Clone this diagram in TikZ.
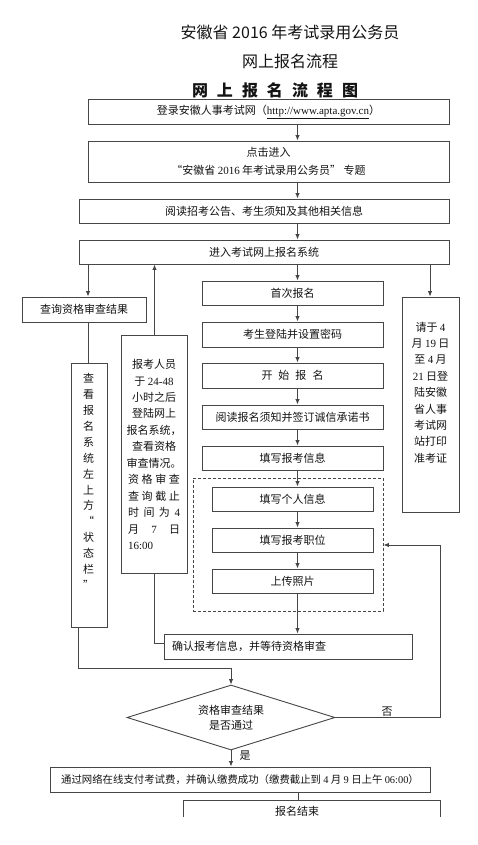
\documentclass[tikz,border=0pt]{standalone}
\usepackage{fontspec}
\setmainfont{Noto Sans CJK SC}
\newfontfamily\latf{Liberation Serif}
\newcommand\rn[1]{{\latf #1}}
\usetikzlibrary{arrows.meta,shapes.geometric}
\definecolor{lnc}{RGB}{70,70,70}
\definecolor{txc}{RGB}{20,20,20}
\begin{document}
\begin{tikzpicture}[x=1pt,y=-1pt,
  every node/.style={text=txc, font=\fontsize{11}{16.5}\selectfont},
  box/.style={draw=lnc, line width=0.9pt, inner sep=0pt, align=center},
  conn/.style={draw=lnc, line width=0.9pt},
  arr/.style={conn, -{Latex[length=5.5pt,width=4.5pt]}},
  ttl/.style={font=\fontsize{16}{18}\selectfont},
]
\useasboundingbox (0,0) rectangle (477,845);
\fill[white] (0,0) rectangle (477,845);

% titles
\node[ttl] (t1) at (290,32) {安徽省 2016 年考试录用公务员};
\node[ttl] (t2) at (290,61) {网上报名流程};
\node[font=\fontsize{16}{18}\selectfont\bfseries] (t3) at (275,90) {网\hspace{9pt}上\hspace{9pt}报\hspace{9pt}名\hspace{9pt}流\hspace{9pt}程\hspace{9pt}图};

% top chain
\node[box, minimum width=361, minimum height=25] (b1) at (268.5,111.5) {登录安徽人事考试网（\rn{\underline{http://www.apta.gov.cn}}）};
\node[box, minimum width=361, minimum height=41, font=\fontsize{11}{18}\selectfont] (b2) at (268.5,161.5) {点击进入\\“安徽省 \rn{2016} 年考试录用公务员” 专题};
\node[box, minimum width=370, minimum height=24] (b3) at (264,211) {阅读招考公告、考生须知及其他相关信息};
\node[box, minimum width=370, minimum height=24] (b4) at (264,252) {进入考试网上报名系统};

\coordinate (ax) at (297.5,0);
\draw[arr] (b1.south -| ax) -- (b2.north -| ax);
\draw[arr] (b2.south -| ax) -- (b3.north -| ax);
\draw[arr] (b3.south -| ax) -- (b4.north -| ax);

% left column
\node[box, minimum width=124, minimum height=25] (q1) at (84,309.5) {查询资格审查结果};
\coordinate (lx) at (88,0);
\draw[arr] (b4.south -| lx) -- (q1.north -| lx);
\node[box, minimum width=36, minimum height=264] (q2) at (89,495) {};
\node[align=center, font=\fontsize{11}{15.9}\selectfont] (q2t) at (88.5,481.5) {查\\看\\报\\名\\系\\统\\左\\上\\方\\“\\状\\态\\栏\\”};
\draw[conn] (q1.south -| lx) -- (q2.north -| lx);

\node[box, minimum width=66, minimum height=238] (q3) at (154,454) {};
\node[align=center, font=\fontsize{11}{16.45}\selectfont] (q3t) at (154,454.5) {报考人员\\于 \rn{24-48}\\小时之后\\登陆网上\\报名系统，\\查看资格\\审查情况。\\
\makebox[52pt][s]{资\hfill 格\hfill 审\hfill 查}\\
\makebox[52pt][s]{查\hfill 询\hfill 截\hfill 止}\\
\makebox[52pt][s]{时\hfill 间\hfill 为\hfill \rn{4}}\\
\makebox[52pt][s]{月\hfill \rn{7}\hfill 日}\\
\makebox[52pt][l]{\rn{16:00}}};
\coordinate (mx) at (154.5,0);
\draw[arr] (q3.north -| mx) -- (b4.south -| mx);

% middle column
\node[box, minimum width=181, minimum height=24] (m1) at (292.5,293) {首次报名};
\node[box, minimum width=181, minimum height=25] (m2) at (292.5,334.5) {考生登陆并设置密码};
\node[box, minimum width=181, minimum height=25] (m3) at (292.5,375.5) {开\hspace{6pt}始\hspace{6pt}报\hspace{6pt}名};
\node[box, minimum width=181, minimum height=24] (m4) at (292.5,417) {阅读报名须知并签订诚信承诺书};
\node[box, minimum width=181, minimum height=24] (m5) at (292.5,458) {填写报考信息};
\draw[arr] (b4.south -| ax) -- (m1.north -| ax);
\draw[arr] (m1.south -| ax) -- (m2.north -| ax);
\draw[arr] (m2.south -| ax) -- (m3.north -| ax);
\draw[arr] (m3.south -| ax) -- (m4.north -| ax);
\draw[arr] (m4.south -| ax) -- (m5.north -| ax);

\node[draw=lnc, line width=0.9pt, dash pattern=on 3pt off 2pt, minimum width=190, minimum height=133, inner sep=0pt] (db) at (288,544.5) {};
\node[box, minimum width=161, minimum height=24] (d1) at (292.5,499) {填写个人信息};
\node[box, minimum width=161, minimum height=24] (d2) at (292.5,540) {填写报考职位};
\node[box, minimum width=161, minimum height=24] (d3) at (292.5,581) {上传照片};
\draw[arr] (m5.south -| ax) -- (d1.north -| ax);
\draw[arr] (d1.south -| ax) -- (d2.north -| ax);
\draw[arr] (d2.south -| ax) -- (d3.north -| ax);

\node[box, minimum width=248, minimum height=25, text width=232, align=left] (c1) at (288,646.5) {确认报考信息，并等待资格审查};
\draw[arr] (d3.south -| ax) -- (c1.north -| ax);
\draw[conn] (q3.south -| mx) |- ([yshift=3.5pt]c1.west);

% right column
\node[box, minimum width=57, minimum height=215] (r1) at (430.5,404.5) {};
\node[align=center, font=\fontsize{11}{16.4}\selectfont] (r1t) at (430.5,392.5) {请于 \rn{4}\\月 \rn{19} 日\\至 \rn{4} 月\\\rn{21} 日登\\陆安徽\\省人事\\考试网\\站打印\\准考证};
\coordinate (rx) at (430,0);
\draw[arr] (b4.south -| rx) -- (r1.north -| rx);

% decision
\node[draw=lnc, line width=0.9pt, shape=diamond, aspect=3.2, minimum width=208, minimum height=65, inner sep=0pt, align=center, font=\fontsize{11}{15}\selectfont] (dm) at (231,717.5) {资格审查结果\\是否通过};
\coordinate (lx2) at (78,668);
\draw[arr] (q2.south -| lx2) -- (lx2) -| (dm.north);
\coordinate (nx) at (440,545);
\draw[arr] (dm.east) -| (nx) -- (nx -| db.east);
\node (no) at (387,712) {否};

\node[box, minimum width=380, minimum height=25, font=\fontsize{10.4}{14}\selectfont] (p1) at (240,779.5) {通过网络在线支付考试费，并确认缴费成功（缴费截止到 \rn{4} 月 \rn{9} 日上午 \rn{06:00}）};
\draw[arr] (dm.south) -- (p1.north -| dm.south);
\node (yes) at (245,756) {是};

% end (cut off at the bottom)
\begin{scope}
\clip (0,0) rectangle (477,816.5);
\coordinate (et) at (298,800);
\draw[conn] (p1.south -| et) -- (et);
\coordinate (e1) at (183,816.5);
\coordinate (e2) at (440,816.5);
\draw[conn] (e1) -- (e1 |- et) -- (e2 |- et) -- (e2);
\node (end) at (297,811) {报名结束};
\end{scope}
\end{tikzpicture}
\end{document}
